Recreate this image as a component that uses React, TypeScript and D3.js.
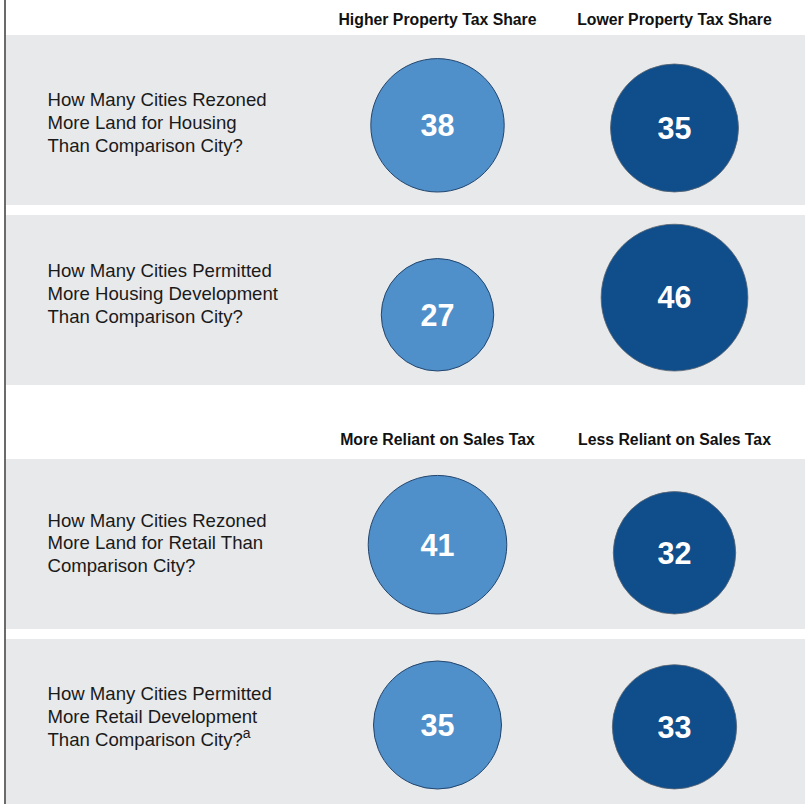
import React from "react";
import * as d3 from "d3";

const questions: string[][] = [
  ["How Many Cities Rezoned", "More Land for Housing", "Than Comparison City?"],
  ["How Many Cities Permitted", "More Housing Development", "Than Comparison City?"],
  ["How Many Cities Rezoned", "More Land for Retail Than", "Comparison City?"],
  ["How Many Cities Permitted", "More Retail Development", "Than Comparison City?"],
];
const footnotes: string[] = ["", "", "", "a"];
const groupHeaders: string[][] = [
  ["Higher Property Tax Share", "Lower Property Tax Share"],
  ["More Reliant on Sales Tax", "Less Reliant on Sales Tax"],
];
const firstValues: number[] = [38, 27, 41, 35];
const secondValues: number[] = [35, 46, 32, 33];

// layout
const W = 805;
const H = 804;
const panelTops = [35, 215, 459, 639];
const panelH = 170;
const textOffsets = [71, 62, 67.5, 61];
const circleBottomOffsets = [157, 156, 155, 150];
const headerBaselines = [25, 445];
const colX = [437.5, 674.5];
const FONT = "'Liberation Sans', Arial, Helvetica, sans-serif";
const LIGHT = "#4f8fca";
const DARK = "#0f4d8b";
const GRAY = "#e8e9eb";

export default function App() {
  const maxV = d3.max([...firstValues, ...secondValues]) as number;
  const r = d3.scaleSqrt().domain([0, maxV]).range([0, 10.82 * Math.sqrt(maxV)]);

  return (
    <svg
      width={W}
      height={H}
      style={{ position: "absolute", left: 0, top: 0, background: "#fff" }}
      fontFamily={FONT}
    >
      <rect x={0} y={0} width={W} height={H} fill="#fff" />
      {panelTops.map((t, i) => (
        <rect key={"p" + i} x={6} y={t} width={W - 6} height={Math.min(panelH, H - t)} fill={GRAY} />
      ))}
      <line x1={5} x2={5} y1={0} y2={H} stroke="#3a3a3a" strokeWidth={1.5} />
      {groupHeaders.map((hs, g) =>
        hs.map((h, j) => (
          <text
            key={"h" + g + j}
            x={colX[j]}
            y={headerBaselines[g]}
            textAnchor="middle"
            fontWeight="bold"
            fontSize={15.8}
            fill="#111"
          >
            {h}
          </text>
        ))
      )}
      {questions.map((lines, i) => {
        const top = panelTops[i];
        const bottom = top + circleBottomOffsets[i];
        const vals = [firstValues[i], secondValues[i]];
        return (
          <g key={"row" + i}>
            <text x={47.5} y={top + textOffsets[i]} fontSize={18.6} fill="#1a1a1a">
              {lines.map((ln, k) => (
                <tspan key={k} x={47.5} dy={k === 0 ? 0 : 22.8}>
                  {ln}
                </tspan>
              ))}
              {footnotes[i] ? (
                <tspan fontSize={14} dy={-8}>
                  {footnotes[i]}
                </tspan>
              ) : null}
            </text>
            {vals.map((v, j) => {
              const rr = r(v);
              const cy = bottom - rr;
              return (
                <g key={"c" + j}>
                  <circle
                    cx={colX[j]}
                    cy={cy}
                    r={rr}
                    fill={j === 0 ? LIGHT : DARK}
                    stroke={j === 0 ? "#23466e" : "#5a6470"}
                    strokeWidth={j === 0 ? 1 : 0.8}
                  />
                  <text
                    x={colX[j]}
                    y={cy + 10.8}
                    textAnchor="middle"
                    fontWeight="bold"
                    fontSize={30.5}
                    fill="#fff"
                  >
                    {v}
                  </text>
                </g>
              );
            })}
          </g>
        );
      })}
    </svg>
  );
}
